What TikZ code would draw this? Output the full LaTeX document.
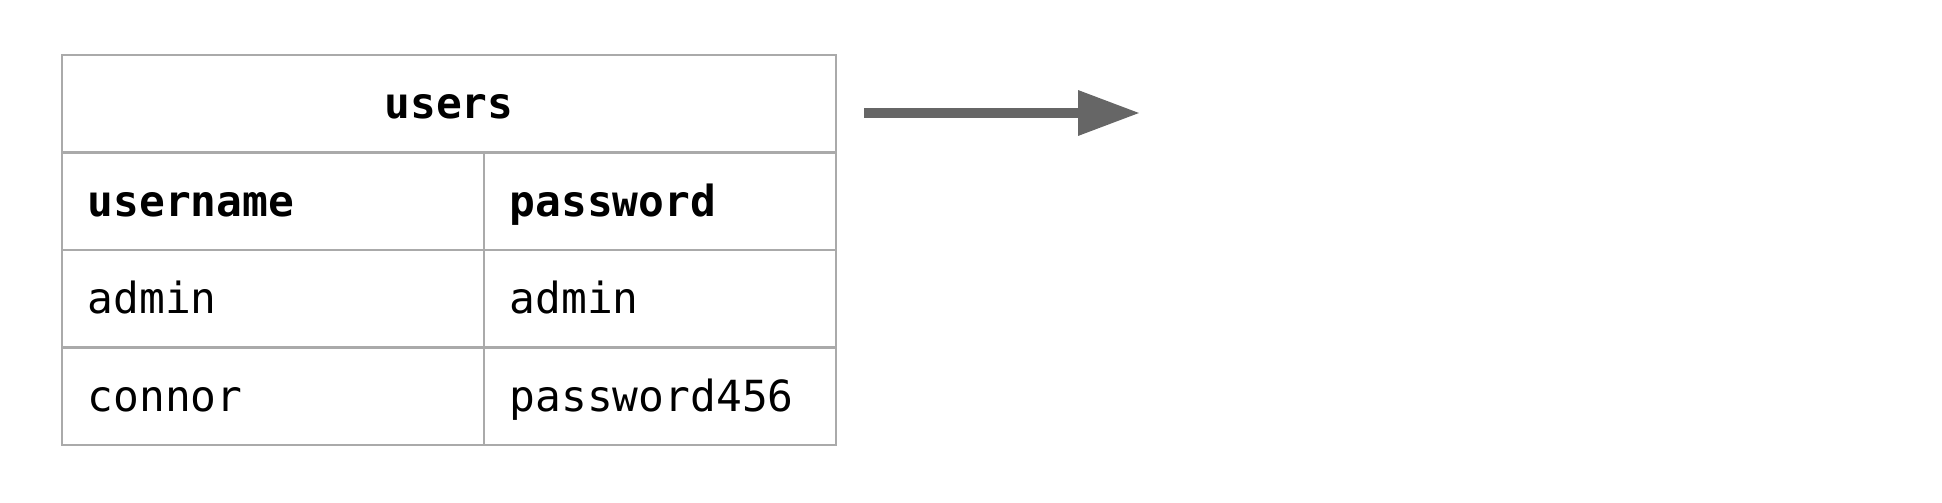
\documentclass[tikz,border=0pt]{standalone}
\usepackage{fontspec}
\setmonofont{DejaVu Sans Mono}
\usepackage{xcolor}
\usetikzlibrary{arrows.meta}
\usetikzlibrary{calc}
\definecolor{gridgray}{HTML}{AAAAAA}
\definecolor{arrgray}{HTML}{666666}
\newcommand{\tblxa}{0.62}
\newcommand{\tblxb}{4.84}
\newcommand{\tblxc}{8.36}
\newcommand{\tblya}{4.47}
\newcommand{\tblyb}{3.495}
\newcommand{\tblyc}{2.52}
\newcommand{\tblyd}{1.545}
\newcommand{\tblye}{0.57}
\newcommand{\tblpad}{0.25}
\newcommand{\tblbsl}{0.64}
\newcommand{\tblnxa}{\tblxa + \tblpad}
\newcommand{\tblnxb}{\tblxb + \tblpad}
\newcommand{\tblnya}{\tblya - \tblbsl}
\newcommand{\tblnyb}{\tblyb - \tblbsl}
\newcommand{\tblnyc}{\tblyc - \tblbsl}
\newcommand{\tblnyd}{\tblyd - \tblbsl}
\begin{document}
\begin{tikzpicture}[anchor=base west, inner sep=0pt,
    font=\ttfamily\fontsize{12.2pt}{14pt}\selectfont,
    grid/.style={draw=gridgray, line width=0.6pt},
    flow/.style={draw=arrgray, line width=2.8pt,
      -{Triangle[length=17.6pt, width=12.2pt]}}]
    \useasboundingbox (0,0) rectangle (19.42,5.02);

    \node[anchor=base, font=\ttfamily\bfseries\fontsize{12.2pt}{14pt}\selectfont]
      (tblname) at ($0.5*(\tblxa + \tblxc, 0) + (0, \tblnya)$) {users};
    \node[font=\ttfamily\bfseries\fontsize{12.2pt}{14pt}\selectfont]
      (colusr) at (\tblnxa, \tblnyb) {username};
    \node[font=\ttfamily\bfseries\fontsize{12.2pt}{14pt}\selectfont]
      (colpwd) at (\tblnxb, \tblnyb) {password};
    \node (usra) at (\tblnxa, \tblnyc) {admin};
    \node (pwda) at (\tblnxb, \tblnyc) {admin};
    \node (usrb) at (\tblnxa, \tblnyd) {connor};
    \node (pwdb) at (\tblnxb, \tblnyd) {password456};

    \draw[grid] (\tblxa, \tblye) rectangle (\tblxc, \tblya);
    \draw[grid] (\tblxa, \tblyb) -- (\tblxc, \tblyb);
    \draw[grid] (\tblxa, \tblyc) -- (\tblxc, \tblyc);
    \draw[grid] (\tblxa, \tblyd) -- (\tblxc, \tblyd);
    \draw[grid] (\tblxb, \tblye) -- (\tblxb, \tblyb);

    \coordinate (arrfrom) at (8.64, 3.89);
    \coordinate (arrto) at (11.40, 3.89);
    \draw[flow] (arrfrom) -- (arrto);
\end{tikzpicture}
\end{document}
